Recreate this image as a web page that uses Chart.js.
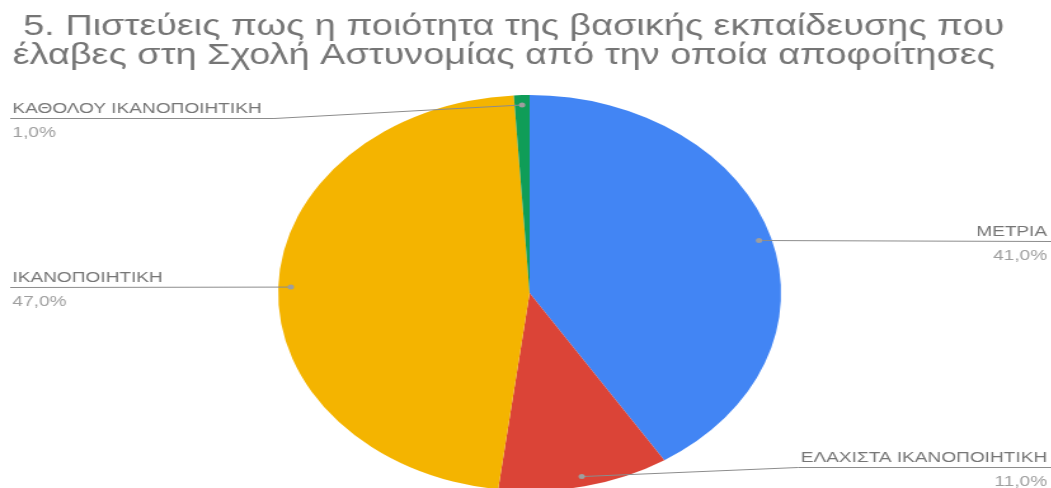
<!DOCTYPE html>
<html>
<head>
<meta charset="utf-8">
<script src="https://cdn.jsdelivr.net/npm/chart.js"></script>
<style>
  html, body { margin: 0; padding: 0; overflow: hidden; background: #fff; }
  /* the reference is stretched sideways, so the whole chart is drawn narrow and scaled */
  #wrap { width: 828px; height: 500px; transform: scaleX(1.27); transform-origin: 0 0; }
</style>
</head>
<body>
<div id="wrap"><canvas id="myChart"></canvas></div>
<script>
const titleLines = [
  ' 5. Πιστεύεις πως η ποιότητα της βασικής εκπαίδευσης που',
  'έλαβες στη Σχολή Αστυνομίας από την οποία αποφοίτησες'
];
const labels = ['ΜΕΤΡΙΑ', 'ΕΛΑΧΙΣΤΑ ΙΚΑΝΟΠΟΙΗΤΙΚΗ', 'ΙΚΑΝΟΠΟΙΗΤΙΚΗ', 'ΚΑΘΟΛΟΥ ΙΚΑΝΟΠΟΙΗΤΙΚΗ'];
const values = [41, 11, 47, 1];
const colors = ['#4285f4', '#db4437', '#f4b400', '#0f9d58'];

const FONT = '"Liberation Sans", Arial, sans-serif';

// Nhãn bên ngoài có đường dẫn
const sliceLabels = {
  id: 'sliceLabels',
  afterDraw(chart) {
    const ctx = chart.ctx;
    const meta = chart.getDatasetMeta(0);
    const total = values.reduce((a, b) => a + b, 0);
    const w = chart.width;
    ctx.save();
    ctx.font = '15px ' + FONT;
    ctx.lineWidth = 1;
    meta.data.forEach((arc, i) => {
      const mid = (arc.startAngle + arc.endAngle) / 2;
      const r = arc.outerRadius * 0.95;
      const px = arc.x + Math.cos(mid) * r;
      const py = arc.y + Math.sin(mid) * r;
      const right = Math.cos(mid) >= 0;
      const ly = Math.round(Math.min(Math.max(py, 118), 467)) + 0.5;
      const name = labels[i];
      const pct = (values[i] / total * 100).toFixed(1).replace('.', ',') + '%';
      const tw = ctx.measureText(name).width;

      ctx.strokeStyle = '#8c8c8c';
      ctx.beginPath();
      ctx.moveTo(px, py);
      if (right) {
        if (Math.abs(ly - py) > 1.5) ctx.lineTo(824.5 - tw - 2, ly);
        ctx.lineTo(w, ly);
      } else {
        if (Math.abs(ly - py) > 1.5) ctx.lineTo(9.8 + tw + 10, ly);
        ctx.lineTo(8, ly);
      }
      ctx.stroke();

      ctx.fillStyle = '#9e9e9e';
      ctx.beginPath();
      ctx.arc(px, py, 2.5, 0, Math.PI * 2);
      ctx.fill();

      ctx.textBaseline = 'alphabetic';
      ctx.textAlign = right ? 'right' : 'left';
      const tx = right ? 824.5 : 9.8;
      ctx.fillStyle = '#757575';
      ctx.fillText(name, tx, ly - 6);
      ctx.fillStyle = '#9e9e9e';
      ctx.fillText(pct, tx, ly + 18);
    });
    ctx.restore();
  }
};

const ctx = document.querySelector('#myChart').getContext('2d');
const myChart = new Chart(ctx, {
  type: 'pie',
  data: {
    labels: labels,
    datasets: [{
      data: values,
      backgroundColor: colors,
      borderWidth: 0,
      offset: 0,
      hoverOffset: 0
    }]
  },
  options: {
    responsive: true,
    maintainAspectRatio: false,
    animation: false,
    layout: { padding: { top: 0, left: 10, right: 4, bottom: 9 } },
    plugins: {
      legend: { display: false },
      tooltip: { enabled: false },
      title: {
        display: true,
        text: titleLines,
        align: 'start',
        color: '#757575',
        font: { family: FONT, size: 29.8, weight: 'normal', lineHeight: '28.5px' },
        padding: { top: 13, bottom: 25 }
      }
    }
  },
  plugins: [sliceLabels]
});
</script>
</body>
</html>
